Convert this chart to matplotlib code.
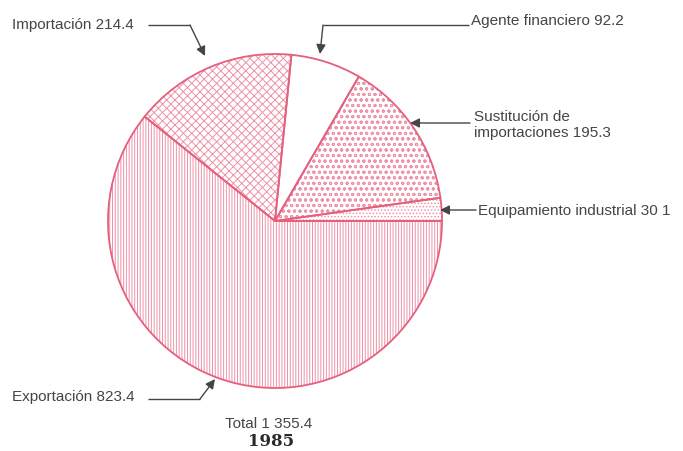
import numpy as np
import matplotlib
matplotlib.use("Agg")
import matplotlib.pyplot as plt

# data, counterclockwise from 3 o'clock
labels = ["Equipamiento industrial 30 1", "Sustitución de\nimportaciones 195.3",
          "Agente financiero 92.2", "Importación 214.4", "Exportación 823.4"]
values = [30.1, 195.3, 92.2, 214.4, 823.4]
hatches = [".....", "ooo", "", "xxxx", "||||||"]
total_label = "Total 1 355.4"
year_label = "1985"

W, H = 683, 452
plt.rcParams['font.family'] = ['Liberation Sans', 'DejaVu Sans']
plt.rcParams['hatch.linewidth'] = 0.7

fig = plt.figure(figsize=(W / 100, H / 100), dpi=100)
ax = fig.add_axes([0, 0, 1, 1])

cx, cy, r = 275, H - 222, 167
pink = '#e4607c'
light = '#ee93a7'
txt = '#454545'

wedges, _ = ax.pie(values, center=(cx, cy), radius=r, startangle=0,
                   counterclock=True, colors=['white'] * len(values),
                   wedgeprops=dict(edgecolor=light, linewidth=0), frame=True)
for w, h in zip(wedges, hatches):
    w.set_hatch(h)
ax.pie(values, center=(cx, cy), radius=r, startangle=0, counterclock=True,
       wedgeprops=dict(fill=False, edgecolor=pink, linewidth=1.3), frame=True)
ax.set_xlim(0, W)
ax.set_ylim(0, H)
ax.set_aspect('equal')
ax.axis('off')


def callout(text, tx, ty, path, ha='left', va='center'):
    # path: list of (x, y) pixel points (top-left origin), last one is arrow tip
    pts = [(x, H - y) for x, y in path]
    xs, ys = zip(*pts[:-1])
    ax.plot(xs, ys, color=txt, lw=1.0, solid_capstyle='butt')
    ax.annotate('', xy=pts[-1], xytext=pts[-2],
                arrowprops=dict(arrowstyle='-|>', color=txt, lw=1.0,
                                mutation_scale=14, shrinkA=0, shrinkB=0))
    ax.text(tx, H - ty, text, ha=ha, va=va, color=txt, fontsize=11)


callout(labels[3], 12, 25, [(148, 26), (190, 26), (205, 57)])
callout(labels[2], 471, 21, [(469, 26), (323, 26), (320, 55)])
callout(labels[1], 474, 125, [(470, 124), (410, 124)], va='center')
callout(labels[0], 478, 211, [(476, 211), (440, 211)])
callout(labels[4], 12, 397, [(148, 400), (200, 400), (215, 380)])

ax.text(269, H - 424, total_label, ha='center', va='center', color=txt, fontsize=11)
ax.text(271, H - 442, year_label, ha='center', va='center', color='#2a2a2a',
        fontsize=12, fontweight='bold', family=['DejaVu Serif'])

fig.savefig('out.png', dpi=100)
